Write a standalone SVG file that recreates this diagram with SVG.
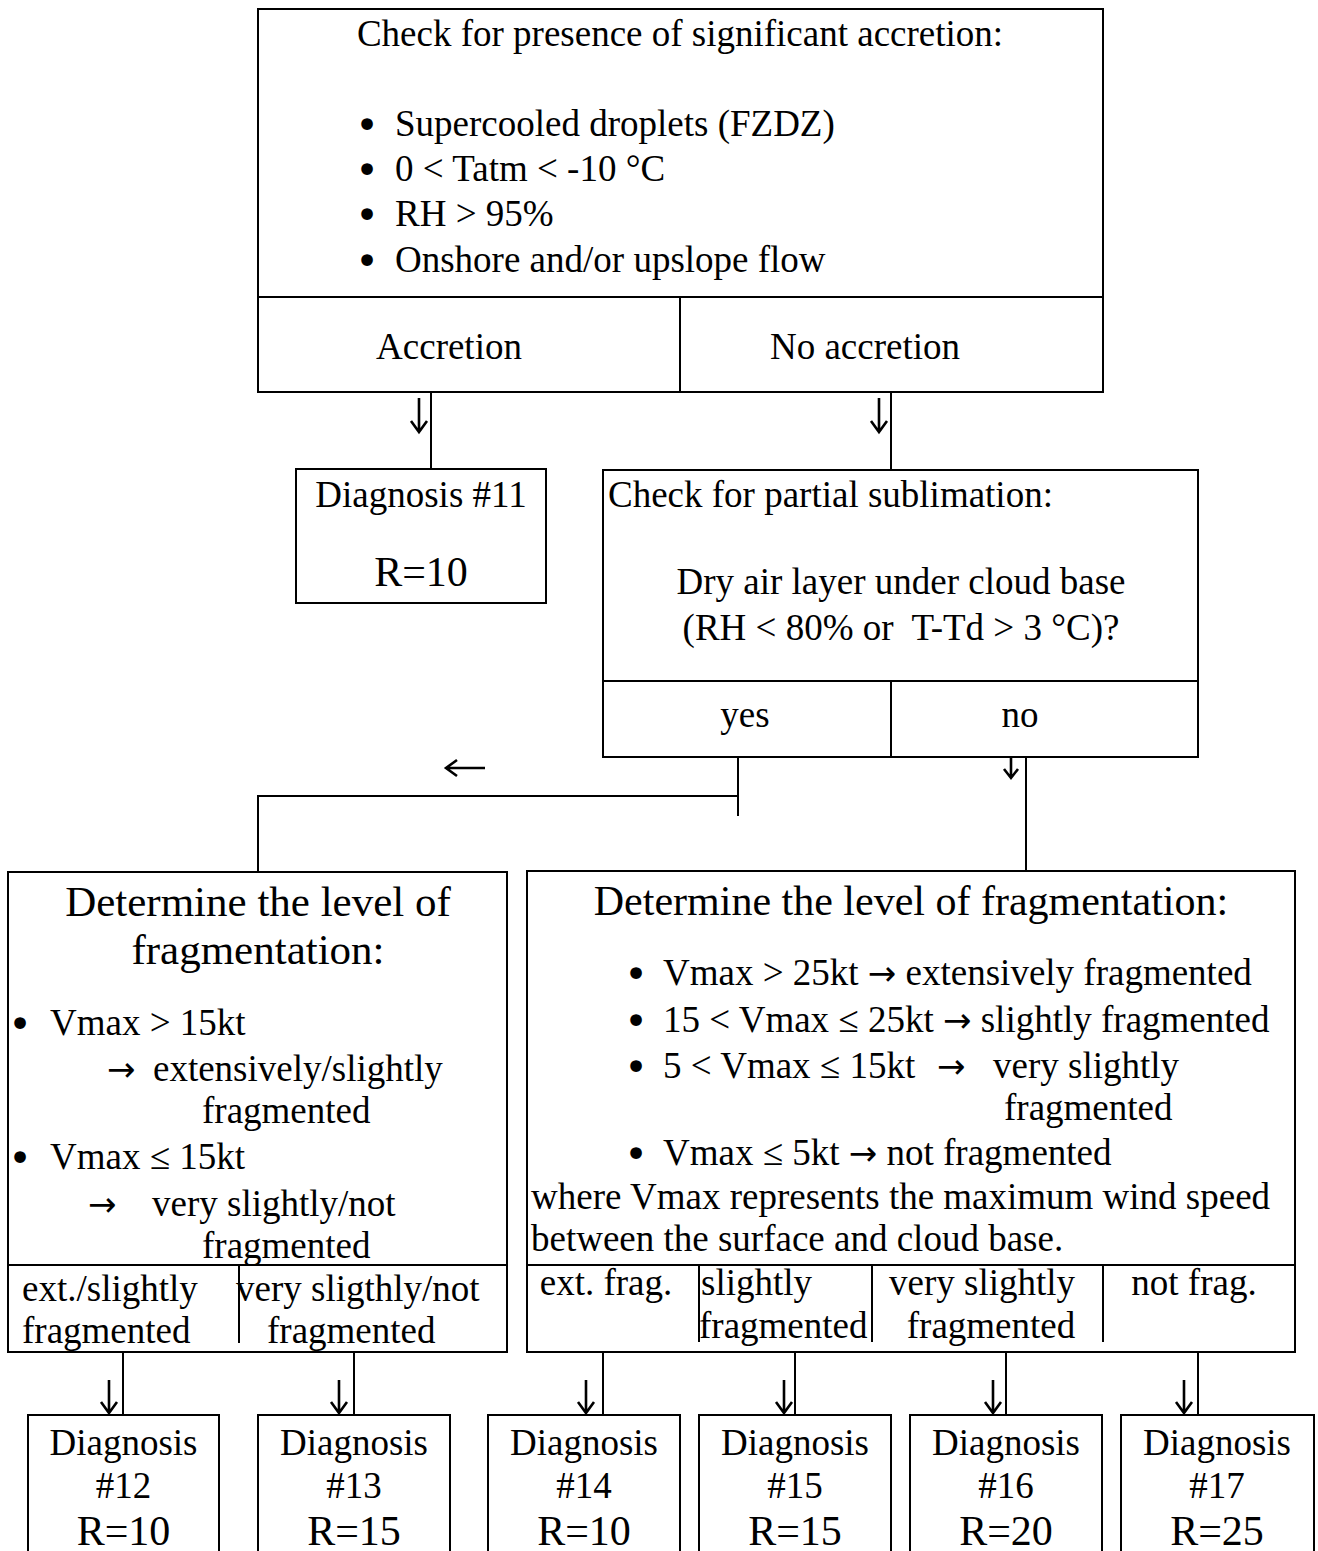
<svg xmlns="http://www.w3.org/2000/svg" width="1318" height="1551" viewBox="0 0 1318 1551">
<style>
  .box { fill: #fff; stroke: #000; stroke-width: 2; }
  .ln { fill: none; stroke: #000; stroke-width: 2; }
  .arr { fill: none; stroke: #000; stroke-width: 2.6; stroke-linecap: butt; }
  text { font-family: "Liberation Serif", "Times New Roman", serif; font-size: 37px; fill: #000; }
  .c { text-anchor: middle; }
  .big { font-size: 42px; }
  .hd { font-size: 43px; }
  .sym { font-family: "DejaVu Sans", sans-serif; font-size: 34px; }
  .bul { font-family: "DejaVu Sans", sans-serif; font-size: 40px; text-anchor: middle; }
</style>
<rect width="1318" height="1551" fill="#fff"/>

<g id="connectors">
  <line class="ln" x1="431" y1="392" x2="431" y2="469"/>
  <path class="arr" d="M419 398 V432 M411 421 L419 432 L427 421"/>
  <line class="ln" x1="891" y1="392" x2="891" y2="470"/>
  <path class="arr" d="M879 398 V432 M871 421 L879 432 L887 421"/>
  <path class="ln" d="M738 757 V816 M738 796 H258 V872"/>
  <path class="arr" d="M485 768 H446 M457 760 L446 768 L457 776"/>
  <line class="ln" x1="1026" y1="736" x2="1026" y2="871"/>
  <path class="arr" d="M1011 757 V778 M1004 769 L1011 778 L1018 769"/>
  <line class="ln" x1="123" y1="1340" x2="123" y2="1415"/>
  <path class="arr" d="M109 1380 V1413 M101 1402 L109 1413 L117 1402"/>
  <line class="ln" x1="354" y1="1340" x2="354" y2="1415"/>
  <path class="arr" d="M339 1380 V1413 M331 1402 L339 1413 L347 1402"/>
  <line class="ln" x1="603" y1="1338" x2="603" y2="1415"/>
  <path class="arr" d="M586 1380 V1413 M578 1402 L586 1413 L594 1402"/>
  <line class="ln" x1="795" y1="1334" x2="795" y2="1415"/>
  <path class="arr" d="M784 1380 V1413 M776 1402 L784 1413 L792 1402"/>
  <line class="ln" x1="1006" y1="1336" x2="1006" y2="1415"/>
  <path class="arr" d="M993 1380 V1413 M985 1402 L993 1413 L1001 1402"/>
  <line class="ln" x1="1198" y1="1338" x2="1198" y2="1415"/>
  <path class="arr" d="M1184 1380 V1413 M1176 1402 L1184 1413 L1192 1402"/>
</g>

<g id="accretion-check">
  <rect class="box" x="258" y="9" width="845" height="383"/>
  <line class="ln" x1="258" y1="297" x2="1103" y2="297"/>
  <line class="ln" x1="680" y1="297" x2="680" y2="392"/>
  <text class="c" x="680" y="46">Check for presence of significant accretion:</text>
  <text class="bul" x="367" y="139">•</text><text x="395" y="136">Supercooled droplets (FZDZ)</text>
  <text class="bul" x="367" y="184">•</text><text x="395" y="181">0 &lt; Tatm &lt; -10 °C</text>
  <text class="bul" x="367" y="229">•</text><text x="395" y="226">RH &gt; 95%</text>
  <text class="bul" x="367" y="275">•</text><text x="395" y="272">Onshore and/or upslope flow</text>
  <text class="c" x="449" y="359">Accretion</text>
  <text class="c" x="865" y="359">No accretion</text>
</g>

<g id="diag11">
  <rect class="box" x="296" y="469" width="250" height="134"/>
  <text class="c" x="421" y="507">Diagnosis #11</text>
  <text class="c big" x="421" y="586">R=10</text>
</g>

<g id="sublimation-check">
  <rect class="box" x="603" y="470" width="595" height="287"/>
  <line class="ln" x1="603" y1="681" x2="1198" y2="681"/>
  <line class="ln" x1="891" y1="681" x2="891" y2="757"/>
  <text x="608" y="507">Check for partial sublimation:</text>
  <text class="c" x="901" y="594">Dry air layer under cloud base</text>
  <text class="c" x="901" y="640">(RH &lt; 80% or&#160; T-Td &gt; 3 °C)?</text>
  <text class="c" x="745" y="727">yes</text>
  <text class="c" x="1020" y="727">no</text>
</g>

<g id="frag-left">
  <rect class="box" x="8" y="872" width="499" height="480"/>
  <line class="ln" x1="8" y1="1265" x2="507" y2="1265"/>
  <line class="ln" x1="239" y1="1265" x2="239" y2="1343"/>
  <text class="c hd" x="258" y="916">Determine the level of</text>
  <text class="c hd" x="258" y="964">fragmentation:</text>
  <text class="bul" x="20" y="1038">•</text><text x="50" y="1035">Vmax &gt; 15kt</text>
  <text class="sym" x="107" y="1081">→</text><text x="153" y="1081">extensively/slightly</text>
  <text x="202" y="1123">fragmented</text>
  <text class="bul" x="20" y="1172">•</text><text x="50" y="1169">Vmax ≤ 15kt</text>
  <text class="sym" x="88" y="1216">→</text><text x="152" y="1216">very slightly/not</text>
  <text x="202" y="1258">fragmented</text>
  <text x="22" y="1301">ext./slightly</text>
  <text x="22" y="1343">fragmented</text>
  <text x="236" y="1301">very sligthly/not</text>
  <text x="267" y="1343">fragmented</text>
</g>

<g id="frag-right">
  <rect class="box" x="527" y="871" width="768" height="481"/>
  <line class="ln" x1="527" y1="1265" x2="1295" y2="1265"/>
  <line class="ln" x1="699" y1="1265" x2="699" y2="1342"/>
  <line class="ln" x1="872" y1="1265" x2="872" y2="1342"/>
  <line class="ln" x1="1103" y1="1265" x2="1103" y2="1342"/>
  <text class="c big" x="911" y="915">Determine the level of fragmentation:</text>
  <text class="bul" x="636" y="988">•</text><text x="663" y="985">Vmax &gt; 25kt <tspan class="sym">→</tspan> extensively fragmented</text>
  <text class="bul" x="636" y="1035">•</text><text x="663" y="1032">15 &lt; Vmax ≤ 25kt <tspan class="sym">→</tspan> slightly fragmented</text>
  <text class="bul" x="636" y="1081">•</text><text x="663" y="1078">5 &lt; Vmax ≤ 15kt</text><text class="sym" x="937" y="1078">→</text><text x="993" y="1078">very slightly</text>
  <text x="1004" y="1120">fragmented</text>
  <text class="bul" x="636" y="1168">•</text><text x="663" y="1165">Vmax ≤ 5kt <tspan class="sym">→</tspan> not fragmented</text>
  <text x="531" y="1209">where Vmax represents the maximum wind speed</text>
  <text x="531" y="1251">between the surface and cloud base.</text>
  <text class="c" x="606" y="1295">ext. frag.</text>
  <text x="701" y="1295">slightly</text>
  <text x="699" y="1338">fragmented</text>
  <text class="c" x="982" y="1295">very slightly</text>
  <text class="c" x="991" y="1338">fragmented</text>
  <text class="c" x="1194" y="1295">not frag.</text>
</g>

<g id="diag12"><rect class="box" x="28" y="1415" width="191" height="150"/>
  <text class="c" x="123.5" y="1455">Diagnosis</text><text class="c" x="123.5" y="1498">#12</text><text class="c big" x="123.5" y="1545">R=10</text></g>
<g id="diag13"><rect class="box" x="258" y="1415" width="192" height="150"/>
  <text class="c" x="354" y="1455">Diagnosis</text><text class="c" x="354" y="1498">#13</text><text class="c big" x="354" y="1545">R=15</text></g>
<g id="diag14"><rect class="box" x="488" y="1415" width="192" height="150"/>
  <text class="c" x="584" y="1455">Diagnosis</text><text class="c" x="584" y="1498">#14</text><text class="c big" x="584" y="1545">R=10</text></g>
<g id="diag15"><rect class="box" x="699" y="1415" width="192" height="150"/>
  <text class="c" x="795" y="1455">Diagnosis</text><text class="c" x="795" y="1498">#15</text><text class="c big" x="795" y="1545">R=15</text></g>
<g id="diag16"><rect class="box" x="910" y="1415" width="192" height="150"/>
  <text class="c" x="1006" y="1455">Diagnosis</text><text class="c" x="1006" y="1498">#16</text><text class="c big" x="1006" y="1545">R=20</text></g>
<g id="diag17"><rect class="box" x="1121" y="1415" width="193" height="150"/>
  <text class="c" x="1217" y="1455">Diagnosis</text><text class="c" x="1217" y="1498">#17</text><text class="c big" x="1217" y="1545">R=25</text></g>
</svg>
